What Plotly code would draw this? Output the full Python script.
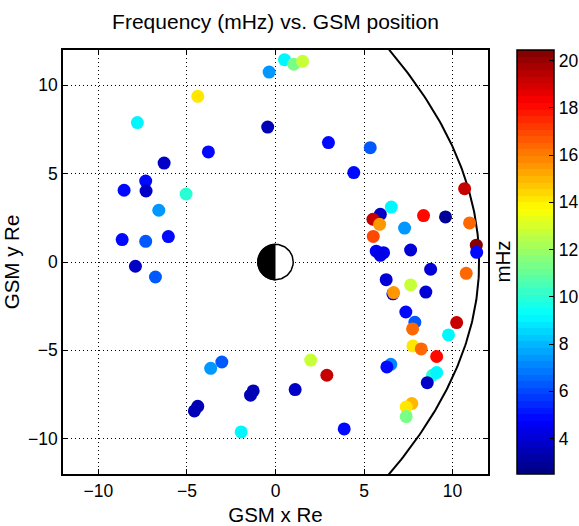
import numpy as np
import plotly.graph_objects as go

# ---- data ----
gsm_x = [-0.36, -4.39, -7.80, -0.44, -3.79, -6.29, -7.33, -8.55, -7.31, -5.05,
         -6.59, -8.66, -7.33, -6.05, 0.51, 1.03, 1.53, 2.99, 5.35, 4.42,
         10.68, 6.54, 8.36, 9.60, 5.92, 5.50, 5.88, 7.29, 10.96, 5.52,
         11.34, 11.36, 5.69, 6.10, 5.92, 7.63, 8.76, 10.77, 6.25, 7.63,
         6.63, 6.67, 8.49, 7.36, 7.87, 7.74, 10.23, 9.77, 7.76, 8.23,
         9.10, 6.51, 6.29, 8.87, 9.10, 8.57, 7.70, 7.38, 7.38, 1.99,
         2.90, 1.11, 3.88, -7.91, -6.78, -3.03, -3.66, -1.26, -1.41, -4.39,
         -4.58, -1.94]
gsm_y = [10.75, 9.38, 7.89, 7.64, 6.23, 5.60, 4.58, 4.06, 4.02, 3.85,
         2.93, 1.27, 1.17, 1.44, 11.45, 11.20, 11.36, 6.76, 6.47, 5.06,
         4.15, 3.11, 2.63, 2.55, 2.70, 2.42, 2.13, 1.92, 2.21, 1.45,
         0.95, 0.55, 0.61, 0.53, 0.38, 0.68, -0.41, -0.64, -1.00, -1.30,
         -1.80, -1.73, -1.70, -2.83, -3.41, -3.79, -3.43, -4.13, -4.75, -4.92,
         -5.35, -5.79, -5.94, -6.41, -6.26, -6.83, -8.01, -8.21, -8.75, -5.55,
         -6.41, -7.22, -9.45, -0.24, -0.85, -5.66, -6.02, -7.30, -7.54, -8.17,
         -8.43, -9.62]
freq_mhz = [7.5, 14.0, 9.0, 3.5, 5.0, 3.7, 4.8, 4.8, 3.7, 10.0,
            7.5, 4.8, 6.3, 5.0, 9.0, 11.2, 12.7, 5.0, 6.3, 5.0,
            19.3, 9.0, 18.0, 3.0, 3.8, 19.3, 15.5, 7.5, 16.5, 17.0,
            20.4, 5.0, 4.6, 4.6, 4.2, 4.0, 4.0, 16.5, 4.0, 12.7,
            4.0, 15.5, 4.0, 5.0, 6.3, 16.5, 19.3, 9.0, 14.0, 16.5,
            18.0, 7.0, 5.0, 10.0, 9.0, 3.8, 15.0, 14.0, 11.2, 12.7,
            19.3, 3.8, 5.0, 3.8, 6.3, 6.3, 7.5, 3.5, 3.5, 3.5,
            3.5, 9.0]
cbar_ticks = [4, 6, 8, 10, 12, 14, 16, 18, 20]
axis_ticks = [-10, -5, 0, 5, 10]
C_MIN, C_MAX = 2.5, 20.45

# boundary curve (parabolic model: x = X0 - y^2 / K)
BOUND_X0, BOUND_K = 11.5, 28.4
EARTH_R = 1.0

# ---- jet colormap, 64 discrete levels ----
def jet(t):
    r = np.clip(1.5 - abs(4 * t - 3), 0, 1)
    g = np.clip(1.5 - abs(4 * t - 2), 0, 1)
    b = np.clip(1.5 - abs(4 * t - 1), 0, 1)
    return "rgb(%d,%d,%d)" % (round(r * 255), round(g * 255), round(b * 255))

N = 64
colorscale = []
for i in range(N):
    c = jet((i + 0.5) / N)
    colorscale.append([i / N, c])
    colorscale.append([(i + 1) / N, c])

FONT = "Liberation Sans, Arial, Helvetica, sans-serif"
TICK_SIZE = 17.5
LABEL_SIZE = 20.5
TITLE_SIZE = 21

fig = go.Figure()

# boundary curve
yb = np.linspace(-14, 14, 200)
xb = BOUND_X0 - yb ** 2 / BOUND_K
fig.add_trace(go.Scatter(x=xb, y=yb, mode="lines",
                         line=dict(color="black", width=2),
                         hoverinfo="skip", showlegend=False))

# Earth: white disk with black night half
th = np.linspace(0, 2 * np.pi, 121)
fig.add_trace(go.Scatter(x=EARTH_R * np.cos(th), y=EARTH_R * np.sin(th),
                         mode="lines", fill="toself", fillcolor="white",
                         line=dict(color="black", width=1.5),
                         hoverinfo="skip", showlegend=False))
th2 = np.linspace(np.pi / 2, 3 * np.pi / 2, 61)
fig.add_trace(go.Scatter(x=EARTH_R * np.cos(th2), y=EARTH_R * np.sin(th2),
                         mode="lines", fill="toself", fillcolor="black",
                         line=dict(color="black", width=1.5),
                         hoverinfo="skip", showlegend=False))

# data points
fig.add_trace(go.Scatter(
    x=gsm_x, y=gsm_y, mode="markers", showlegend=False,
    marker=dict(size=13, color=freq_mhz, colorscale=colorscale,
                cmin=C_MIN, cmax=C_MAX, line=dict(width=0),
                colorbar=dict(
                    x=1.068, xanchor="left", xpad=0, ypad=0,
                    y=0.5, yanchor="middle", len=1, lenmode="fraction",
                    thickness=37, outlinecolor="black", outlinewidth=1.5,
                    tickvals=cbar_ticks, ticks="inside", ticklen=5,
                    tickcolor="black",
                    tickfont=dict(family=FONT, size=TICK_SIZE, color="black"),
                ))))

axis_common = dict(
    range=[-12, 12], tickvals=axis_ticks, ticks="inside", ticklen=5,
    tickcolor="black", showline=True, linecolor="black", linewidth=1.5,
    mirror="allticks", showgrid=True, gridcolor="black", griddash="1px,3px",
    gridwidth=1, zeroline=False, automargin=False,
    tickfont=dict(family=FONT, size=TICK_SIZE, color="black"),
)

fig.update_layout(
    width=579, height=526,
    margin=dict(l=63, r=91, t=50, b=52, autoexpand=False),
    paper_bgcolor="white", plot_bgcolor="white",
    font=dict(family=FONT, color="black"),
    title=dict(text="Frequency (mHz) vs. GSM position", x=0.5, xref="paper",
               y=1 - 22 / 526, yref="container", yanchor="middle", xanchor="center",
               font=dict(family=FONT, size=TITLE_SIZE, color="black")),
    xaxis=dict(axis_common, title=dict(text="GSM x Re", standoff=10,
                                       font=dict(family=FONT, size=LABEL_SIZE, color="black"))),
    yaxis=dict(axis_common, title=dict(text="GSM y Re", standoff=3,
                                       font=dict(family=FONT, size=LABEL_SIZE, color="black"))),
    annotations=[dict(text="mHz", textangle=-90, xref="paper", yref="paper",
                      x=1.032, y=0.5, xanchor="center", yanchor="middle",
                      showarrow=False,
                      font=dict(family=FONT, size=LABEL_SIZE, color="black"))],
)

fig.write_html("out.html",
               config={"displayModeBar": False},
               post_script="document.body.style.margin='0';document.body.style.overflow='hidden';")
